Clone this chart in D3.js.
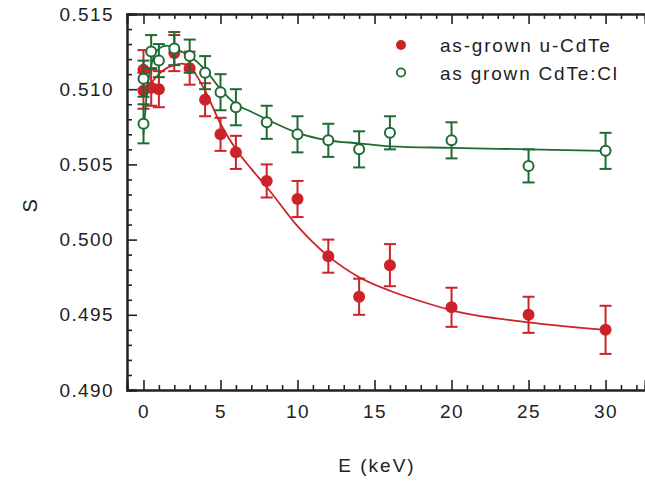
<!DOCTYPE html>
<html>
<head>
<meta charset="utf-8">
<script src="https://cdn.jsdelivr.net/npm/d3@7"></script>
<style>
body { margin: 0; background: #fff; }
svg text { font-family: "Liberation Sans", Arial, sans-serif; fill: #222; letter-spacing: 1.4px; }
</style>
</head>
<body>
<svg></svg>
<script>
// as-grown u-CdTe (filled red)
var eRed   = [0, 0, 0.5, 1, 2, 3, 4, 5, 6, 8, 10, 12, 14, 16, 20, 25, 30];
var sRed   = [0.5113, 0.5099, 0.5101, 0.5100, 0.5124, 0.5114, 0.5093, 0.5070, 0.5058, 0.5039, 0.5027, 0.4989, 0.4962, 0.4983, 0.4955, 0.4950, 0.4940];
var errRed = [0.0013, 0.0012, 0.0012, 0.0012, 0.0012, 0.0011, 0.0011, 0.0011, 0.0011, 0.0011, 0.0012, 0.0011, 0.0012, 0.0014, 0.0013, 0.0012, 0.0016];
// fit curve
var fitERed = [0, 0.5, 1, 1.5, 2, 2.5, 3, 4, 5, 6, 7, 8, 10, 12, 14, 16, 18, 20, 25, 30];
var fitSRed = [0.5096, 0.5104, 0.5110, 0.5114, 0.5116, 0.5117, 0.5115, 0.5099, 0.5077, 0.5060, 0.5047, 0.5035, 0.5009, 0.4989, 0.4975, 0.4966, 0.4959, 0.4953, 0.4945, 0.4940];

// as grown CdTe:Cl (open green)
var eGreen   = [0, 0, 0.5, 1, 2, 3, 4, 5, 6, 8, 10, 12, 14, 16, 20, 25, 30];
var sGreen   = [0.5077, 0.5107, 0.5125, 0.5119, 0.5127, 0.5122, 0.5111, 0.5098, 0.5088, 0.5078, 0.5070, 0.5066, 0.5060, 0.5071, 0.5066, 0.5049, 0.5059];
var errGreen = [0.0013, 0.0012, 0.0011, 0.0011, 0.0011, 0.0011, 0.0011, 0.0012, 0.0012, 0.0011, 0.0012, 0.0011, 0.0012, 0.0011, 0.0012, 0.0011, 0.0012];
var fitEGreen = [0, 0.25, 0.5, 1, 1.5, 2, 3, 4, 5, 6, 7, 8, 10, 12, 14, 16, 20, 25, 30];
var fitSGreen = [0.5070, 0.5100, 0.5116, 0.5127, 0.5129, 0.5127, 0.5122, 0.5113, 0.5100, 0.5090, 0.5085, 0.5080, 0.5071, 0.5066, 0.5064, 0.5062, 0.5061, 0.5060, 0.5059];

var xMajor = [0, 5, 10, 15, 20, 25, 30];
var yMajor = [0.490, 0.495, 0.500, 0.505, 0.510, 0.515];

var legendLabels = ["as-grown u-CdTe", "as grown CdTe:Cl"];

var red = "#cc2229", green = "#1e6b35";

var svgWidth = 645,
    svgHeight = 481;
var plotLeft = 127, plotRight = 645, plotTop = 14, plotBottom = 390;

var svg = d3.select("svg")
    .attr("width", svgWidth)
    .attr("height", svgHeight);

var x = d3.scaleLinear()
    .domain([-1.07, 32.56])
    .range([plotLeft, plotRight]);

var y = d3.scaleLinear()
    .domain([0.490, 0.515])
    .range([plotBottom, plotTop]);

var xMinor = d3.range(0, 33).filter(function(d) { return d % 5 !== 0 });
var yMinor = d3.range(490, 516).filter(function(d) { return d % 5 !== 0 }).map(function(d) { return d / 1000 });

// axes (ticks pointing inward)
function styleAxis(g) {
    g.select(".domain").attr("stroke", "#222").attr("stroke-width", 2);
    g.selectAll(".tick line").attr("stroke", "#222").attr("stroke-width", 1.6);
    g.selectAll(".tick text").style("font-size", "19px").attr("fill", "#222");
}

svg.append("g")
    .attr("transform", "translate(0," + plotBottom + ")")
    .call(d3.axisBottom(x).tickValues(xMinor).tickSize(-5).tickFormat(""))
    .call(styleAxis);
svg.append("g")
    .attr("transform", "translate(0," + plotBottom + ")")
    .call(d3.axisBottom(x).tickValues(xMajor).tickSize(-10).tickPadding(15).tickFormat(d3.format("d")))
    .call(styleAxis);

svg.append("g")
    .attr("transform", "translate(0," + plotTop + ")")
    .call(d3.axisTop(x).tickValues(xMinor).tickSize(-5).tickFormat(""))
    .call(styleAxis);
svg.append("g")
    .attr("transform", "translate(0," + plotTop + ")")
    .call(d3.axisTop(x).tickValues(xMajor).tickSize(-10).tickFormat(""))
    .call(styleAxis);

svg.append("g")
    .attr("transform", "translate(" + plotLeft + ",0)")
    .call(d3.axisLeft(y).tickValues(yMinor).tickSize(-5).tickFormat(""))
    .call(styleAxis);
svg.append("g")
    .attr("transform", "translate(" + plotLeft + ",0)")
    .call(d3.axisLeft(y).tickValues(yMajor).tickSize(-10).tickPadding(13).tickFormat(d3.format(".3f")))
    .call(styleAxis);

// axis titles
svg.append("text")
    .attr("x", 377)
    .attr("y", 472)
    .attr("text-anchor", "middle")
    .style("font-size", "19px")
    .style("letter-spacing", "2px")
    .text("E (keV)");

svg.append("text")
    .attr("transform", "translate(37,205) rotate(-90)")
    .attr("text-anchor", "middle")
    .style("font-size", "20px")
    .text("S");

var line = d3.line()
    .x(function(d) { return x(d[0]) })
    .y(function(d) { return y(d[1]) })
    .curve(d3.curveMonotoneX);

function drawSeries(es, ss, errs, fitE, fitS, color, filled) {
    var pts = es.map(function(e, i) { return { e: e, s: ss[i], err: errs[i] } });
    var g = svg.append("g");

    g.append("path")
        .datum(fitE.map(function(e, i) { return [e, fitS[i]] }))
        .attr("fill", "none")
        .attr("stroke", color)
        .attr("stroke-width", 1.8)
        .attr("d", line);

    var bars = g.selectAll(".bar").data(pts).enter().append("g");
    bars.append("line")
        .attr("x1", function(d) { return x(d.e) })
        .attr("x2", function(d) { return x(d.e) })
        .attr("y1", function(d) { return y(d.s - d.err) })
        .attr("y2", function(d) { return y(d.s + d.err) });
    bars.append("line")
        .attr("x1", function(d) { return x(d.e) - 6 })
        .attr("x2", function(d) { return x(d.e) + 6 })
        .attr("y1", function(d) { return y(d.s + d.err) })
        .attr("y2", function(d) { return y(d.s + d.err) });
    bars.append("line")
        .attr("x1", function(d) { return x(d.e) - 6 })
        .attr("x2", function(d) { return x(d.e) + 6 })
        .attr("y1", function(d) { return y(d.s - d.err) })
        .attr("y2", function(d) { return y(d.s - d.err) });
    bars.selectAll("line").attr("stroke", color).attr("stroke-width", 2);

    g.selectAll("circle").data(pts).enter().append("circle")
        .attr("cx", function(d) { return x(d.e) })
        .attr("cy", function(d) { return y(d.s) })
        .attr("r", filled ? 6 : 5)
        .attr("fill", filled ? color : "#fff")
        .attr("stroke", color)
        .attr("stroke-width", filled ? 0 : 2);
}

drawSeries(eRed, sRed, errRed, fitERed, fitSRed, red, true);
drawSeries(eGreen, sGreen, errGreen, fitEGreen, fitSGreen, green, false);

// legend
var legend = svg.append("g");
legendLabels.forEach(function(label, i) {
    var cy = 45 + i * 27.5;
    legend.append("circle")
        .attr("cx", 401)
        .attr("cy", cy)
        .attr("r", i === 0 ? 5 : 4.2)
        .attr("fill", i === 0 ? red : "#fff")
        .attr("stroke", i === 0 ? "none" : green)
        .attr("stroke-width", 1.8);
    legend.append("text")
        .attr("x", 440)
        .attr("y", cy + 7)
        .style("font-size", "19px")
        .style("letter-spacing", "1.8px")
        .text(label);
});
</script>
</body>
</html>
